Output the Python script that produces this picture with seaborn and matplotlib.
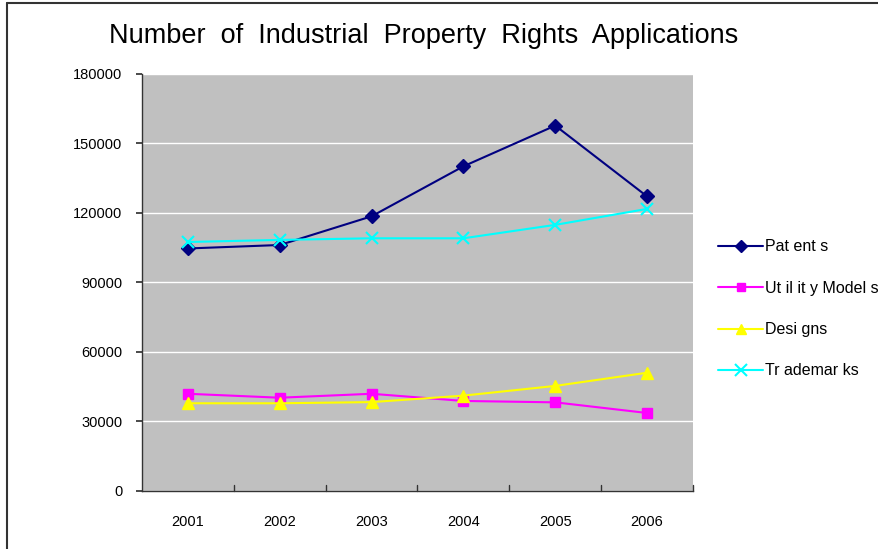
import matplotlib
matplotlib.use("Agg")
import matplotlib.pyplot as plt
import pandas as pd
import seaborn as sns
from matplotlib.lines import Line2D

years = ["2001", "2002", "2003", "2004", "2005", "2006"]
patents = [104600, 106100, 118500, 140100, 157700, 127100]
utility_models = [41800, 40100, 41800, 38700, 38100, 33500]
designs = [37700, 37700, 38200, 41000, 45200, 50900]
trademarks = [107400, 108300, 109000, 109000, 114800, 121700]

series_names = ["Patents", "Utility Models", "Designs", "Trademarks"]
legend_labels = ["Pat ent s", "Ut il it y Model s", "Desi gns", "Tr ademar ks"]
yticks = [0, 30000, 60000, 90000, 120000, 150000, 180000]

sns.set_theme(style="white")
plt.rcParams["font.family"] = ["Liberation Sans", "DejaVu Sans"]
plt.rcParams["text.color"] = "black"
plt.rcParams["xtick.color"] = "black"
plt.rcParams["ytick.color"] = "black"

df = pd.DataFrame({
    "year": years * 4,
    "x": list(range(len(years))) * 4,
    "series": sum([[n] * len(years) for n in series_names], []),
    "value": patents + utility_models + designs + trademarks,
})

styles = {
    "Patents": dict(color="#000080", marker="D", ms=7, mew=1),
    "Utility Models": dict(color="#FF00FF", marker="s", ms=7, mew=1),
    "Designs": dict(color="#FFFF00", marker="^", ms=8, mew=1),
    "Trademarks": dict(color="#00FFFF", marker="x", ms=9, mew=1.5),
}

fig = plt.figure(figsize=(8.79, 5.49), dpi=100)
ax = fig.add_axes([142 / 879, 1 - 490.5 / 549, 551 / 879, 416.5 / 549])
ax.set_facecolor("#C0C0C0")

for name in series_names:
    st = styles[name]
    sub = df[df["series"] == name]
    sns.lineplot(data=sub, x="x", y="value", ax=ax, color=st["color"],
                 marker=st["marker"], markersize=st["ms"], markeredgewidth=st["mew"],
                 markeredgecolor=st["color"], linewidth=1.5, legend=False)

ax.set_xlim(-0.5, len(years) - 0.5)
ax.set_ylim(0, 180000)
ax.set_yticks(yticks)
ax.set_yticklabels([str(v) for v in yticks], fontsize=10.5)
ax.set_xticks(range(len(years)))
ax.set_xticklabels(years, fontsize=10.5)
ax.tick_params(axis="x", length=0, pad=17.5)
ax.tick_params(axis="y", length=4, direction="out", pad=10, color="#333333", left=True)
for i in range(1, len(years) + 1):
    ax.plot([i - 0.5, i - 0.5], [0, 2500], color="#333333", lw=1, clip_on=False)
ax.grid(axis="y", color="white", linewidth=1)
ax.set_axisbelow(True)
ax.set_xlabel("")
ax.set_ylabel("")
for s in ["top", "right"]:
    ax.spines[s].set_visible(False)
for s in ["left", "bottom"]:
    ax.spines[s].set_color("#333333")
    ax.spines[s].set_linewidth(1)

handles = [Line2D([0], [0], color=styles[n]["color"], marker=styles[n]["marker"],
                  markersize=styles[n]["ms"] - 1, markeredgewidth=styles[n]["mew"],
                  linewidth=1.5) for n in series_names]
fig.legend(handles, legend_labels, loc="upper left", bbox_to_anchor=(712 / 879, 1 - 233 / 549),
           frameon=False, fontsize=11.5, handlelength=2.8, labelspacing=1.65,
           handletextpad=0.1, borderaxespad=0)

fig.text(424 / 879, 1 - 36 / 549, "Number  of  Industrial  Property  Rights  Applications",
         ha="center", va="center", fontsize=19.5)

fig.add_artist(Line2D([7 / 879, 7 / 879], [0, 1 - 2.5 / 549], color="#333333", lw=1.5,
                      transform=fig.transFigure))
fig.add_artist(Line2D([7 / 879, 1], [1 - 2.5 / 549, 1 - 2.5 / 549], color="#333333", lw=1.5,
                      transform=fig.transFigure))

fig.savefig("out.png", dpi=100)
